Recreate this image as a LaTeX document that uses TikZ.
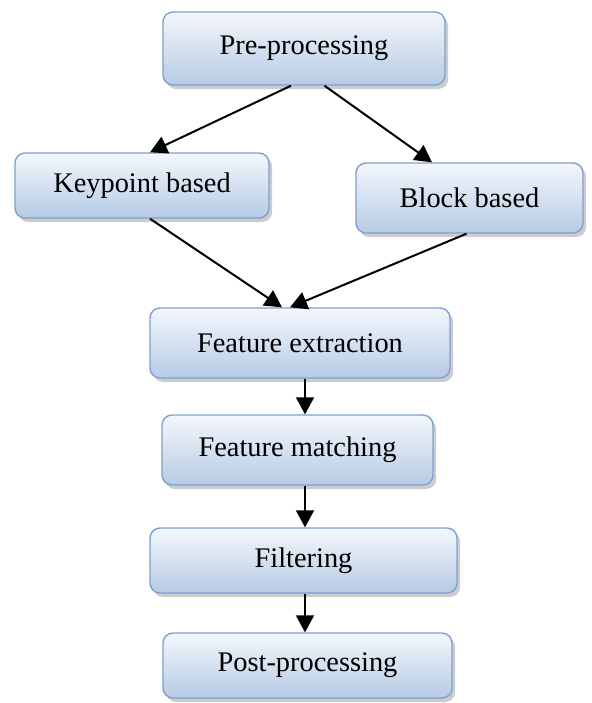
\documentclass[tikz,border=0pt]{standalone}
\usepackage{fontspec}
\setmainfont{Liberation Serif}
\usetikzlibrary{arrows.meta,positioning,shadows}

\definecolor{boxedge}{RGB}{126,160,207}
\definecolor{boxtop}{RGB}{244,247,252}
\definecolor{boxbottom}{RGB}{182,203,228}

\begin{document}
\begin{tikzpicture}[
  box/.style={draw=boxedge, line width=0.7pt, rounded corners=5pt, align=center,
              top color=boxtop, bottom color=boxbottom,
              drop shadow={shadow xshift=1.6pt, shadow yshift=-2pt, fill=black!40},
              font=\fontsize{14.2}{17}\selectfont, inner sep=2pt},
  arr/.style={-{Triangle[length=8.5pt, width=9pt]}, line width=1pt}]
  \useasboundingbox (0,0) rectangle (296pt,-351.5pt);
  \node[box, minimum width=141pt, minimum height=36.5pt] (pre) at (152pt,-24.25pt) {Pre-processing};
  \node[box, minimum width=127pt, minimum height=32.5pt] (key) at (71pt,-92.75pt) {Keypoint based};
  \node[box, minimum width=113.5pt, minimum height=35pt] (blk) at (234.75pt,-99pt) {Block based};
  \node[box, minimum width=150pt, minimum height=35pt] (fe) at (150pt,-171.5pt) {Feature extraction};
  \node[box, minimum width=135.5pt, minimum height=35pt] (fm) at (148.75pt,-225pt) {Feature matching};
  \node[box, minimum width=153.5pt, minimum height=32.5pt] (filt) at (151.75pt,-280.25pt) {Filtering};
  \node[box, minimum width=144.5pt, minimum height=32.5pt] (post) at (153.75pt,-332.75pt) {Post-processing};
  % column of the vertical arrows
  \coordinate (col) at (152.5pt,0);
  \draw[arr] ([xshift=-6.5pt]pre.south) -- ([xshift=4pt]key.north);
  \draw[arr] ([xshift=10.25pt]pre.south) -- ([xshift=-18.75pt]blk.north);
  \draw[arr] ([xshift=4pt]key.south) -- ([xshift=-9pt]fe.north);
  \draw[arr] ([xshift=-1.5pt]blk.south) -- ([xshift=-5pt]fe.north);
  \draw[arr] (fe.south -| col) -- (fm.north -| col);
  \draw[arr] (fm.south -| col) -- (filt.north -| col);
  \draw[arr] (filt.south -| col) -- (post.north -| col);
\end{tikzpicture}
\end{document}
